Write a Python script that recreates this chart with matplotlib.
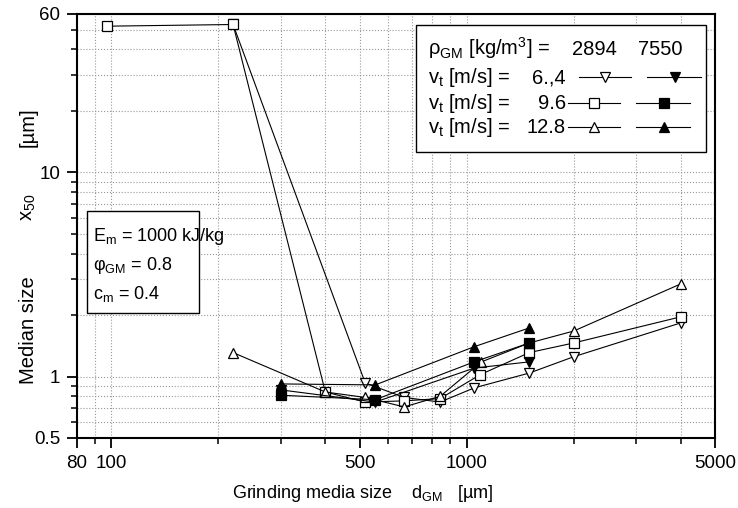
import matplotlib
matplotlib.use("Agg")
import matplotlib.pyplot as plt
import matplotlib.ticker as ticker
from matplotlib.patches import Rectangle

plt.rcParams['font.family'] = ['Liberation Sans', 'DejaVu Sans']
plt.rcParams['mathtext.fontset'] = 'custom'
plt.rcParams['mathtext.rm'] = 'Liberation Sans'
plt.rcParams['font.size'] = 13

# grinding media density 2894 kg/m3 (open symbols)
d_2894_64 = [220, 518, 667, 842, 1050, 1500, 2000, 4000]
x50_2894_64 = [53, 0.93, 0.79, 0.75, 0.88, 1.04, 1.25, 1.83]

d_2894_96 = [97, 220, 400, 518, 667, 842, 1090, 1500, 2000, 4000]
x50_2894_96 = [52, 53, 0.84, 0.75, 0.76, 0.78, 1.02, 1.31, 1.46, 1.96]

d_2894_128 = [220, 400, 518, 667, 842, 1100, 1500, 2000, 4000]
x50_2894_128 = [1.31, 0.84, 0.79, 0.71, 0.80, 1.18, 1.46, 1.67, 2.84]

# grinding media density 7550 kg/m3 (filled symbols)
d_7550 = [300, 553, 1050, 1500]
x50_7550_64 = [0.86, 0.75, 1.10, 1.18]
x50_7550_96 = [0.81, 0.77, 1.18, 1.46]
x50_7550_128 = [0.92, 0.91, 1.40, 1.73]

speeds = ['6.,4', '9.6', '12.8']
markers = ['v', 's', '^']
densities = ['2894', '7550']

x_major = [80, 100, 500, 1000, 5000]
x_minor = [90, 200, 300, 400, 600, 700, 800, 900, 2000, 3000, 4000]
y_major = [0.5, 1, 10, 60]
y_minor = [0.6, 0.7, 0.8, 0.9, 2, 3, 4, 5, 6, 7, 8, 9, 20, 30, 40, 50]

W, H = 738, 508
fig = plt.figure(figsize=(W / 100, H / 100), dpi=100)
ax = fig.add_axes([77 / W, 1 - 438 / H, 638 / W, 424.5 / H])

open_style = dict(mfc='white', mec='black')
filled_style = dict(mfc='black', mec='black')
line_kw = dict(color='black', lw=0.8, ms=7.5, mew=0.9)

open_sets = [(d_2894_64, x50_2894_64), (d_2894_96, x50_2894_96), (d_2894_128, x50_2894_128)]
filled_sets = [x50_7550_64, x50_7550_96, x50_7550_128]

for (d, x50), m in zip(open_sets, markers):
    ax.plot(d, x50, marker=m, **line_kw, **open_style, zorder=3)
for x50, m in zip(filled_sets, markers):
    ax.plot(d_7550, x50, marker=m, **line_kw, **filled_style, zorder=4)

ax.set_xscale('log')
ax.set_yscale('log')
ax.set_xlim(80, 5000)
ax.set_ylim(0.5, 60)

ax.xaxis.set_major_locator(ticker.FixedLocator(x_major))
ax.xaxis.set_minor_locator(ticker.FixedLocator(x_minor))
ax.xaxis.set_major_formatter(ticker.FixedFormatter([str(v) for v in x_major]))
ax.xaxis.set_minor_formatter(ticker.NullFormatter())
ax.yaxis.set_major_locator(ticker.FixedLocator(y_major))
ax.yaxis.set_minor_locator(ticker.FixedLocator(y_minor))
ax.yaxis.set_major_formatter(ticker.FixedFormatter(['0.5', '1', '10', '60']))
ax.yaxis.set_minor_formatter(ticker.NullFormatter())

ax.tick_params(which='major', direction='out', length=7, width=1.3, pad=5, labelsize=13.5)
ax.tick_params(which='minor', direction='out', length=4, width=1.1)
ax.grid(True, which='both', ls=':', color='#999999', lw=0.8)
ax.set_axisbelow(True)
for s in ax.spines.values():
    s.set_linewidth(1.5)

# axis titles, pieces spread out along each axis
ylab = dict(rotation=90, ha='center', va='center', fontsize=14.5)
fig.text(28 / W, 1 - 330 / H, 'Median size', **ylab)
fig.text(28 / W, 1 - 207 / H, r'x$_\mathregular{50}$', **ylab)
fig.text(28 / W, 1 - 127 / H, '[µm]', **ylab)
fig.text(363 / W, 1 - 493 / H, r'Grinding media size    d$_\mathregular{GM}$   [µm]',
         ha='center', va='center', fontsize=13)

# overlay in pixel coordinates for the boxed legend and notes
ov = fig.add_axes([0, 0, 1, 1], zorder=5)
ov.set_xlim(0, W)
ov.set_ylim(H, 0)
ov.axis('off')

ov.add_patch(Rectangle((416, 25), 290, 127, fc='white', ec='black', lw=1.0))
ov.text(428, 55, r'ρ$_\mathregular{GM}$ [kg/m$^\mathregular{3}$] =', fontsize=14.5)
ov.text(594, 55, densities[0], ha='center', fontsize=14.5)
ov.text(660, 55, densities[1], ha='center', fontsize=14.5)

row_y = [83, 109, 133]
for i, (v, m) in enumerate(zip(speeds, markers)):
    y = row_y[i]
    ov.text(428, y, r'v$_\mathregular{t}$ [m/s] =', fontsize=14.5)
    ov.text(566, y, v, ha='right', fontsize=14.5)
    x0 = 579 if i == 0 else 568
    ov.plot([x0, x0 + 52], [y - 6, y - 6], color='black', lw=0.8)
    ov.plot([x0 + 26], [y - 6], marker=m, ms=7.5, mew=0.9, **open_style)
    ov.plot([x0 + 68, x0 + 122], [y - 6, y - 6], color='black', lw=0.8)
    ov.plot([x0 + 96], [y - 6], marker=m, ms=7.5, mew=0.9, **filled_style)

note_font = ['Liberation Sans Narrow', 'Liberation Sans']
ov.add_patch(Rectangle((87, 211), 112, 102, fc='white', ec='black', lw=1.0))
ov.text(93, 241, r'E$_\mathregular{m}$ = 1000 kJ/kg', fontsize=13, family=note_font)
ov.text(93, 270, r'φ$_\mathregular{GM}$ = 0.8', fontsize=13, family=note_font)
ov.text(93, 299, r'c$_\mathregular{m}$ = 0.4', fontsize=13, family=note_font)

fig.savefig('out.png', dpi=100)
